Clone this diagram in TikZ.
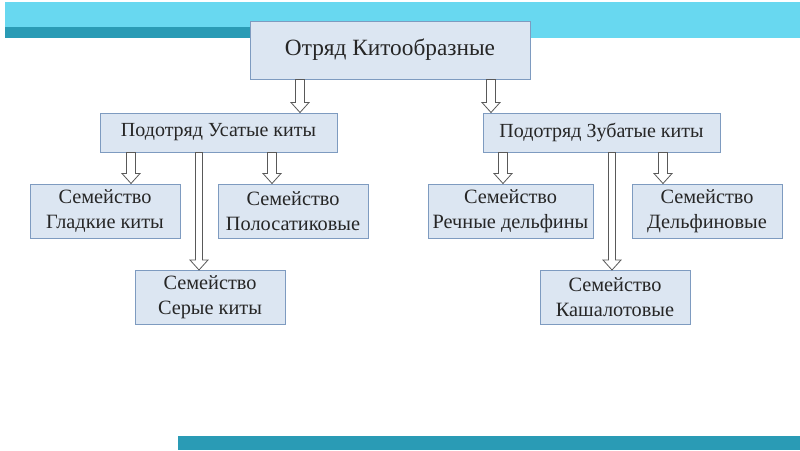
\documentclass[tikz,border=0pt]{standalone}
\usepackage{fontspec}
\setmainfont{Liberation Serif}
\usetikzlibrary{calc}
\definecolor{boxfill}{HTML}{DCE6F2}
\definecolor{boxline}{HTML}{7E9BC0}
\definecolor{barlight}{HTML}{68D8F0}
\definecolor{bardark}{HTML}{2A9BB5}
\definecolor{arrline}{HTML}{595959}
% hollow block arrow: [half shaft] {from} {to} {x in px}
\newcommand{\blockarrow}[4][4.5]{%
  \draw[barrow] let \p1=(#2), \p2=(#3) in
    (#4pt-#1pt,\y1) -- (#4pt-#1pt,\y2+10pt) -- (#4pt-9pt,\y2+10pt) -- (#4pt,\y2)
    -- (#4pt+9pt,\y2+10pt) -- (#4pt+#1pt,\y2+10pt) -- (#4pt+#1pt,\y1) -- cycle;}

\begin{document}
\begin{tikzpicture}[x=1pt,y=-1pt,
  box/.style={draw=boxline,fill=boxfill,line width=1pt,inner sep=0pt,align=center,
    text=black!85},
  order/.style={box,minimum width=280,minimum height=58,font=\fontsize{23.3}{27}\selectfont},
  sub/.style={box,minimum width=237,minimum height=39,font=\fontsize{20}{24}\selectfont},
  fam/.style={box,minimum width=150,minimum height=54,font=\fontsize{20.3}{25}\selectfont},
  barrow/.style={draw=arrline,fill=white,line width=0.8pt}]
\useasboundingbox (0,0) rectangle (800,450);
\fill[white] (0,0) rectangle (800,450);
% slide bars
\fill[barlight] (5,2) rectangle (800,38);
\fill[bardark] (5,27) rectangle (250,38);
\fill[bardark] (178,436) rectangle (800,450);
% order and suborders
\node[order] (order) at (390,50) {Отряд Китообразные};
\node[sub] (baleen) at (218.5,132.5) {Подотряд Усатые киты};
\node[sub] (toothed) at (601.5,132.5) {Подотряд Зубатые киты};
% families
\node[fam] (right) at (105,211) {Семейство\\Гладкие киты};
\node[fam] (rorq) at (293,211) {Семейство\\Полосатиковые};
\node[fam] (gray) at (210,297.5) {Семейство\\Серые киты};
\node[fam,minimum width=165] (river) at (510.5,211) {Семейство\\Речные дельфины};
\node[fam] (dolph) at (707,211) {Семейство\\Дельфиновые};
\node[fam] (sperm) at (615,297.5) {Семейство\\Кашалотовые};
% arrows
\blockarrow{order.south}{baleen.north}{300}
\blockarrow{order.south}{toothed.north}{491}
\blockarrow{baleen.south}{right.north}{131}
\blockarrow{baleen.south}{rorq.north}{272}
\blockarrow[3.5]{baleen.south}{gray.north}{199}
\blockarrow{toothed.south}{river.north}{503}
\blockarrow{toothed.south}{dolph.north}{663}
\blockarrow[3.5]{toothed.south}{sperm.north}{612}
\end{tikzpicture}
\end{document}
